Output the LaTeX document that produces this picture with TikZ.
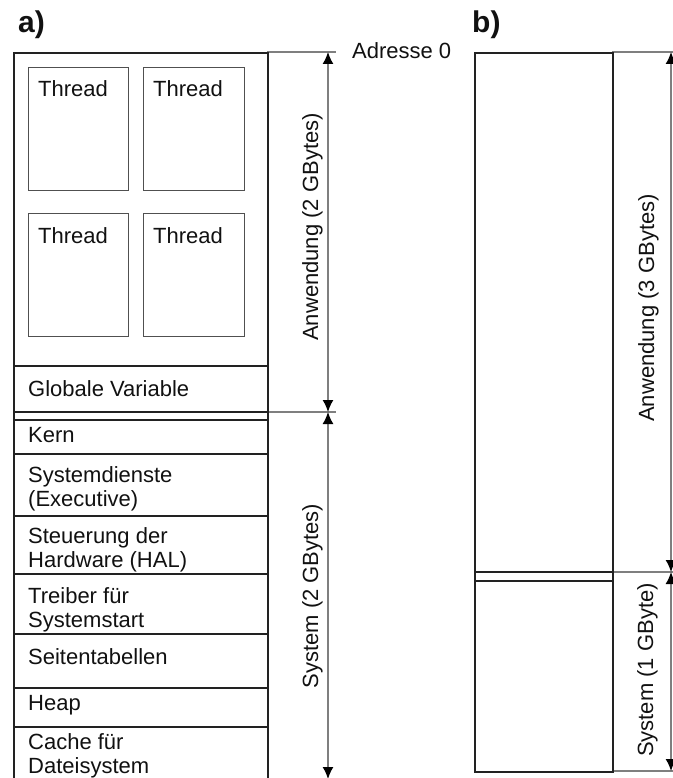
\documentclass[tikz,border=0pt]{standalone}
\usepackage{fontspec}
\setmainfont{Liberation Sans}
\usetikzlibrary{arrows.meta}
\definecolor{boxline}{HTML}{222222}
\definecolor{thline}{HTML}{505050}
\definecolor{dimline}{HTML}{7F7F7F}
\definecolor{txtcol}{HTML}{111111}
\tikzset{
  memline/.style={draw=boxline, line width=1.8pt},
  membox/.style={draw=boxline, line width=1.8pt, inner sep=0pt, anchor=north west},
  thbox/.style={draw=thline, line width=1.4pt, inner sep=0pt, anchor=north west, minimum height=123pt},
  txt/.style={anchor=north west, inner sep=0pt, font=\fontsize{22}{24}\selectfont, align=left, text=txtcol},
  dim/.style={draw=dimline, line width=1.5pt},
  dimarrow/.style={dim, {Latex[length=12pt,width=11pt,color=black]}-{Latex[length=12pt,width=11pt,color=black]}},
  vlabel/.style={rotate=90, anchor=base, inner sep=0pt, font=\fontsize{22}{24}\selectfont, text=txtcol},
  panel/.style={anchor=base west, inner sep=0pt, font=\fontsize{30}{32}\selectfont\bfseries, text=txtcol},
}
\begin{document}
\begin{tikzpicture}[x=1pt, y=-1pt]
\useasboundingbox (0,0) rectangle (672,778);

% ---------- dimension lines (drawn first) ----------
\coordinate (aT) at (328,52);
\coordinate (aM) at (328,412);
\coordinate (aB) at (328,779);
\coordinate (aTe) at (336,52);
\coordinate (aMs) at (267,412);
\coordinate (aMe) at (336,412);
\coordinate (aTs) at (267,52);
\draw[dim] (aTs) -- (aTe);
\draw[dim] (aMs) -- (aMe);
\draw[dimarrow] (aT) -- (aM);
\draw[dimarrow] (aM) -- (aB);

\coordinate (bT) at (671,52);
\coordinate (bM) at (671,572);
\coordinate (bB) at (671,771);
\coordinate (bTs) at (612,52);
\coordinate (bTe) at (676,52);
\coordinate (bMs) at (612,572);
\coordinate (bMe) at (676,572);
\coordinate (bBs) at (612,771);
\coordinate (bBe) at (676,771);
\draw[dim] (bTs) -- (bTe);
\draw[dim] (bMs) -- (bMe);
\draw[dim] (bBs) -- (bBe);
\draw[dimarrow] (bT) -- (bM);
\draw[dimarrow] (bM) -- (bB);

% ---------- panel a ----------
\node[panel] (la) at (18,33) {a)};
\node[membox, minimum width=254pt, minimum height=727pt] (boxA) at (13,52) {};

\node[thbox, minimum width=100pt] (t1) at (28,67) {};
\node[thbox, minimum width=101pt] (t2) at (143,67) {};
\node[thbox, minimum width=100pt] (t3) at (28,213) {};
\node[thbox, minimum width=101pt] (t4) at (143,213) {};
\node[txt] (t1l) at (38,80.5) {Thread};
\node[txt] (t2l) at (153,80.5) {Thread};
\node[txt] (t3l) at (38,227) {Thread};
\node[txt] (t4l) at (153,227) {Thread};

\draw[memline] (13,366) -- (267,366);
\draw[memline] (13,412) -- (267,412);
\draw[memline] (13,420) -- (267,420);
\draw[memline] (13,454) -- (267,454);
\draw[memline] (13,516) -- (267,516);
\draw[memline] (13,574) -- (267,574);
\draw[memline] (13,634) -- (267,634);
\draw[memline] (13,688) -- (267,688);
\draw[memline] (13,727) -- (267,727);

\node[txt] (gv) at (28,380) {Globale Variable};
\node[txt] (kern) at (28,427) {Kern};
\node[txt] (sd) at (28,466) {Systemdienste\\(Executive)};
\node[txt] (hal) at (28,527) {Steuerung der\\Hardware (HAL)};
\node[txt] (tr) at (28,587) {Treiber für\\Systemstart};
\node[txt] (st) at (28,648) {Seitentabellen};
\node[txt] (hp) at (28,695) {Heap};
\node[txt] (ca) at (28,733) {Cache für\\Dateisystem};

\node[anchor=base west, inner sep=0pt, font=\fontsize{22}{24}\selectfont, text=txtcol] (adr) at (352,58.5) {Adresse 0};

\node[vlabel] (anwA) at (318,227) {Anwendung (2 GBytes)};
\node[vlabel] (sysA) at (318,596) {System (2 GBytes)};

% ---------- panel b ----------
\node[panel] (lb) at (472,33) {b)};
\node[membox, minimum width=138pt, minimum height=719pt] (boxB) at (474,52) {};
\draw[memline] (474,572) -- (612,572);
\draw[memline] (474,581) -- (612,581);

\node[vlabel] (anwB) at (654,308) {Anwendung (3 GBytes)};
\node[vlabel] (sysB) at (653,670) {System (1 GByte)};
\end{tikzpicture}
\end{document}
